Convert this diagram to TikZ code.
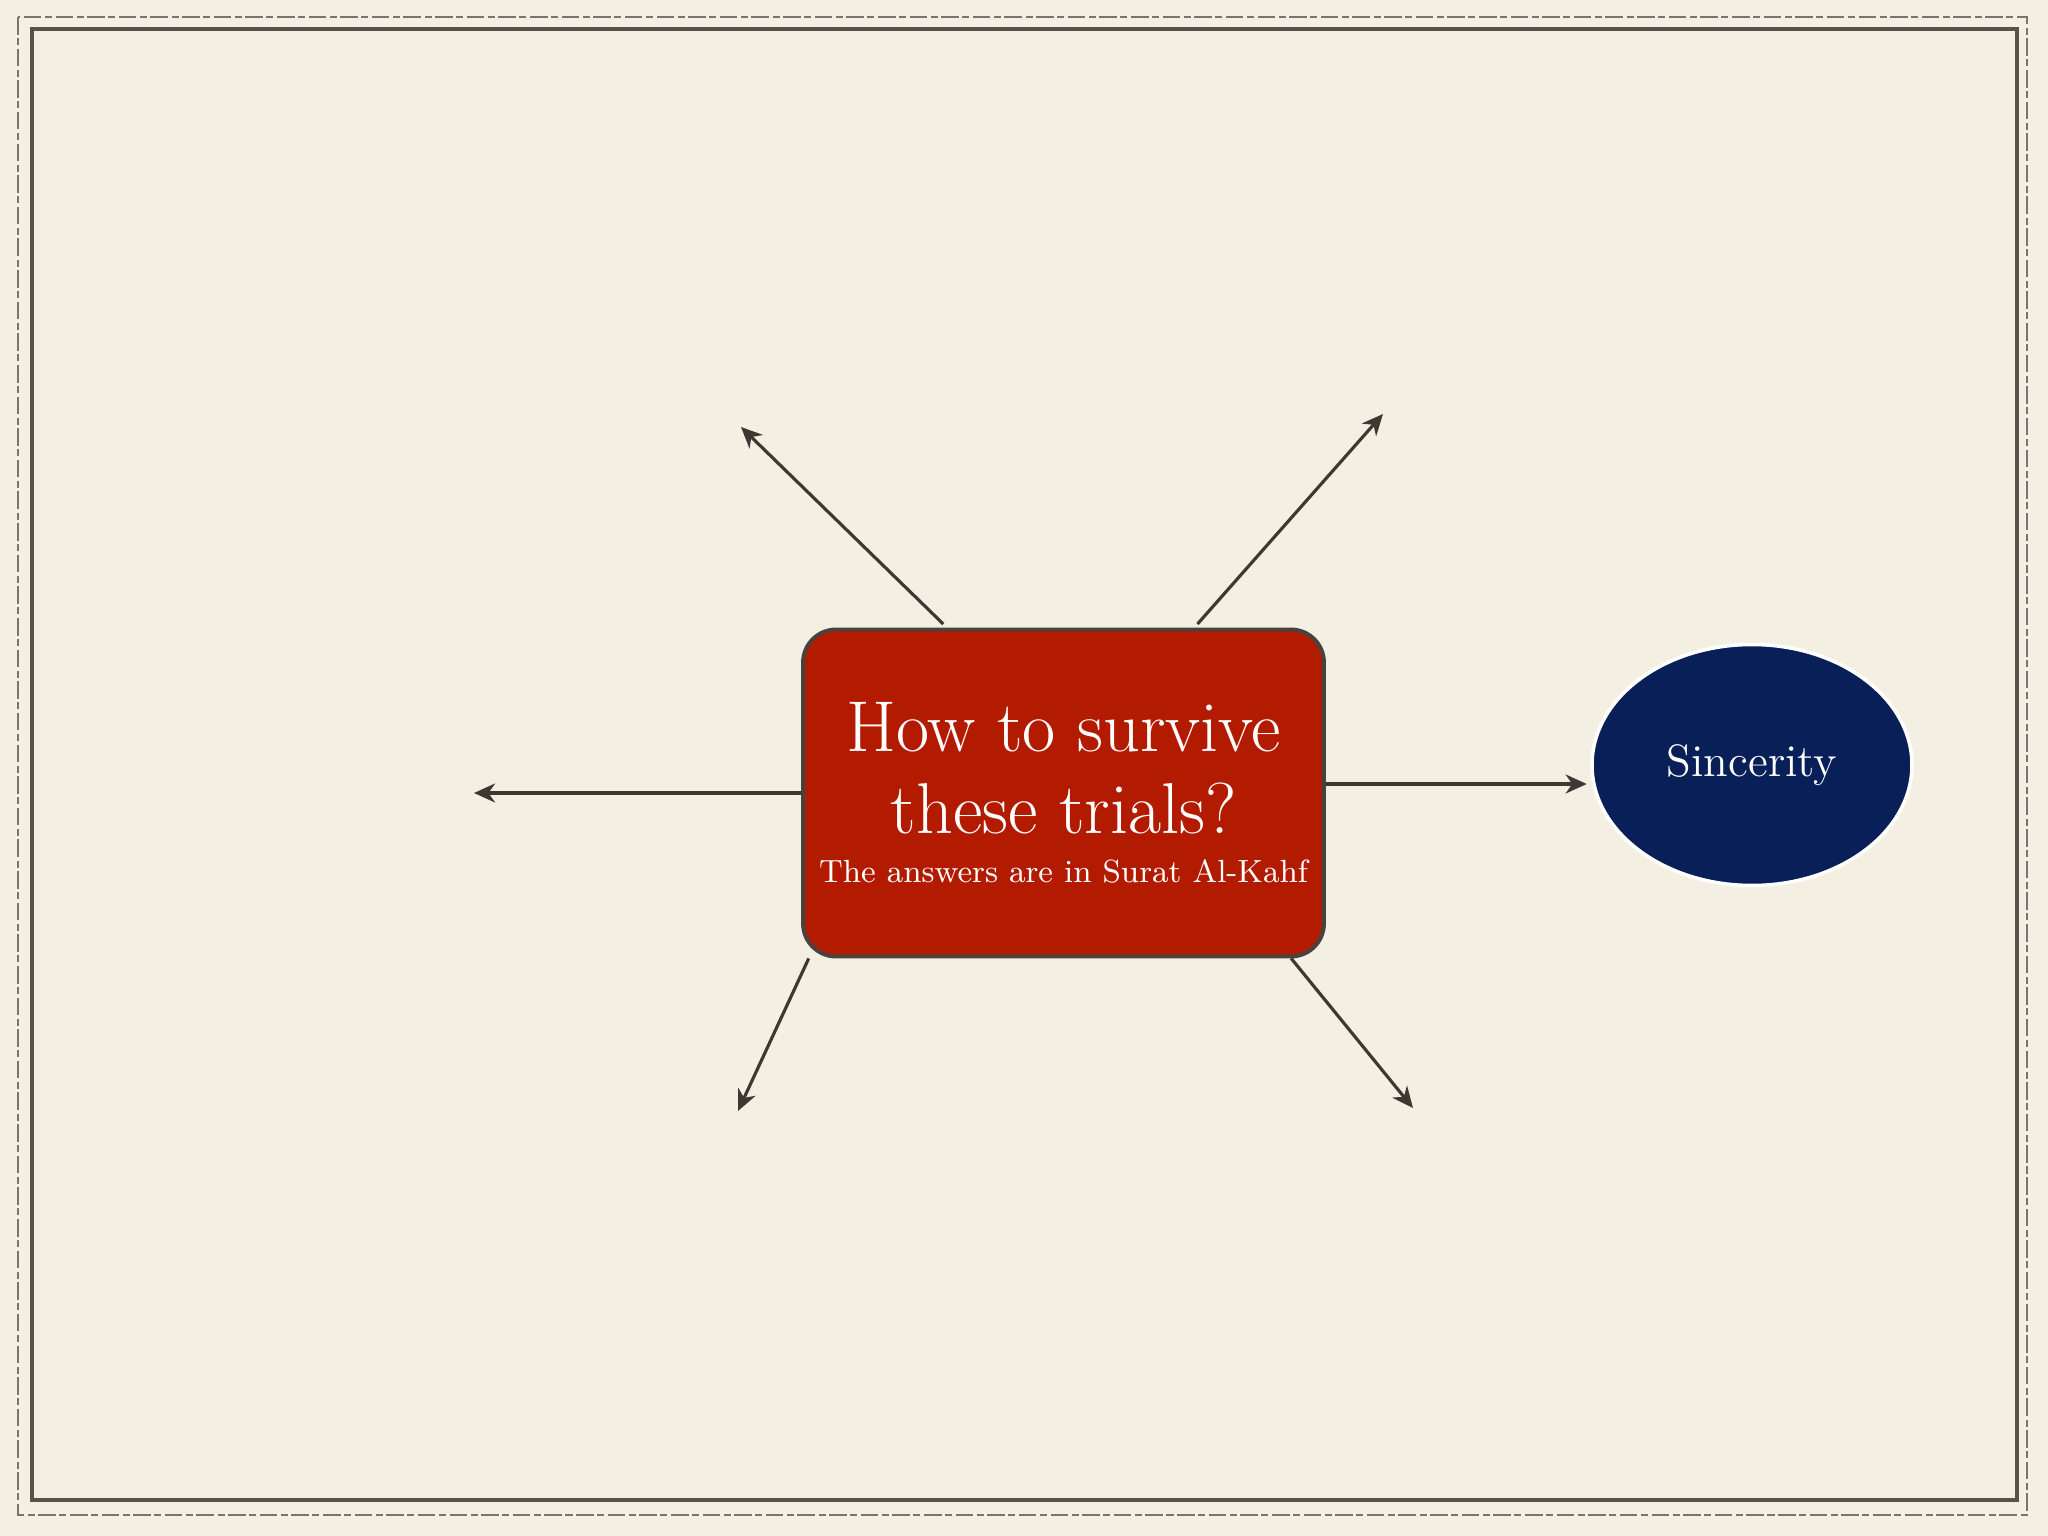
\documentclass[tikz,border=0pt]{standalone}
\usepackage{fontspec}
\usepackage{tikz}
\usetikzlibrary{arrows.meta,shapes.geometric}

\definecolor{paper}{RGB}{243,240,227}
\definecolor{frame}{RGB}{88,83,74}
\definecolor{boxred}{RGB}{179,27,0}
\definecolor{boxline}{RGB}{72,66,62}
\definecolor{navy}{RGB}{8,31,88}
\definecolor{ink}{RGB}{61,56,50}

\begin{document}
\begin{tikzpicture}[
    arr/.style={draw=ink,line width=0.9pt,-{Stealth[length=6pt,width=5.4pt,inset=1.9pt]}},
    mainbox/.style={draw=boxline,fill=boxred,line width=1.1pt,rounded corners=0.33cm,
        minimum width=5.21cm,minimum height=3.27cm,text=white,align=center,inner sep=0pt},
    answer/.style={draw=white,fill=navy,line width=1pt,ellipse,
        minimum width=3.2cm,minimum height=2.41cm,text=white,inner sep=0pt}]

        % page and frame
        \fill[paper] (0,0) rectangle (20.48,-15.36);
        \useasboundingbox (0,0) rectangle (20.48,-15.36);
        \draw[frame!80,line width=0.5pt,dash pattern=on 5pt off 1pt on 2pt off 1pt] (0.18,-0.17) rectangle (20.27,-15.15);
        \draw[frame,line width=1.3pt] (0.32,-0.29) rectangle (20.17,-15.00);

        \coordinate (A) at (10.635,-7.93);
        \coordinate (B) at (17.52,-7.65);
        \coordinate (C) at (4.74,-7.93);
        \coordinate (D) at (7.41,-4.27);
        \coordinate (E) at (13.83,-4.14);
        \coordinate (F) at (7.38,-11.11);
        \coordinate (G) at (14.13,-11.08);
        \coordinate (H) at (15,-7.84);

        \node[mainbox,font=\fontsize{20.5}{23.2}\selectfont] (QA) at (A)
            {How to survive\\these trials?\\[-9.2pt]{\fontsize{9.13}{11}\selectfont The answers are in Surat Al-Kahf}};
        \node[answer,font=\fontsize{12.9}{15}\selectfont] (QB) at (B) {Sincerity};

        \draw[arr] (QA.east |- H) -- ([xshift=-1pt]QB.west |- H);
        \draw[arr] (QA.west) -- (C);
        \draw[arr] ([yshift=1pt]QA.126.8) -- (D);
        \draw[arr] ([yshift=1pt]QA.51.9) -- (E);
        \draw[arr] (QA.213.3) -- (F);
        \draw[arr] (QA.324.8) -- (G);
      \end{tikzpicture}
\end{document}
